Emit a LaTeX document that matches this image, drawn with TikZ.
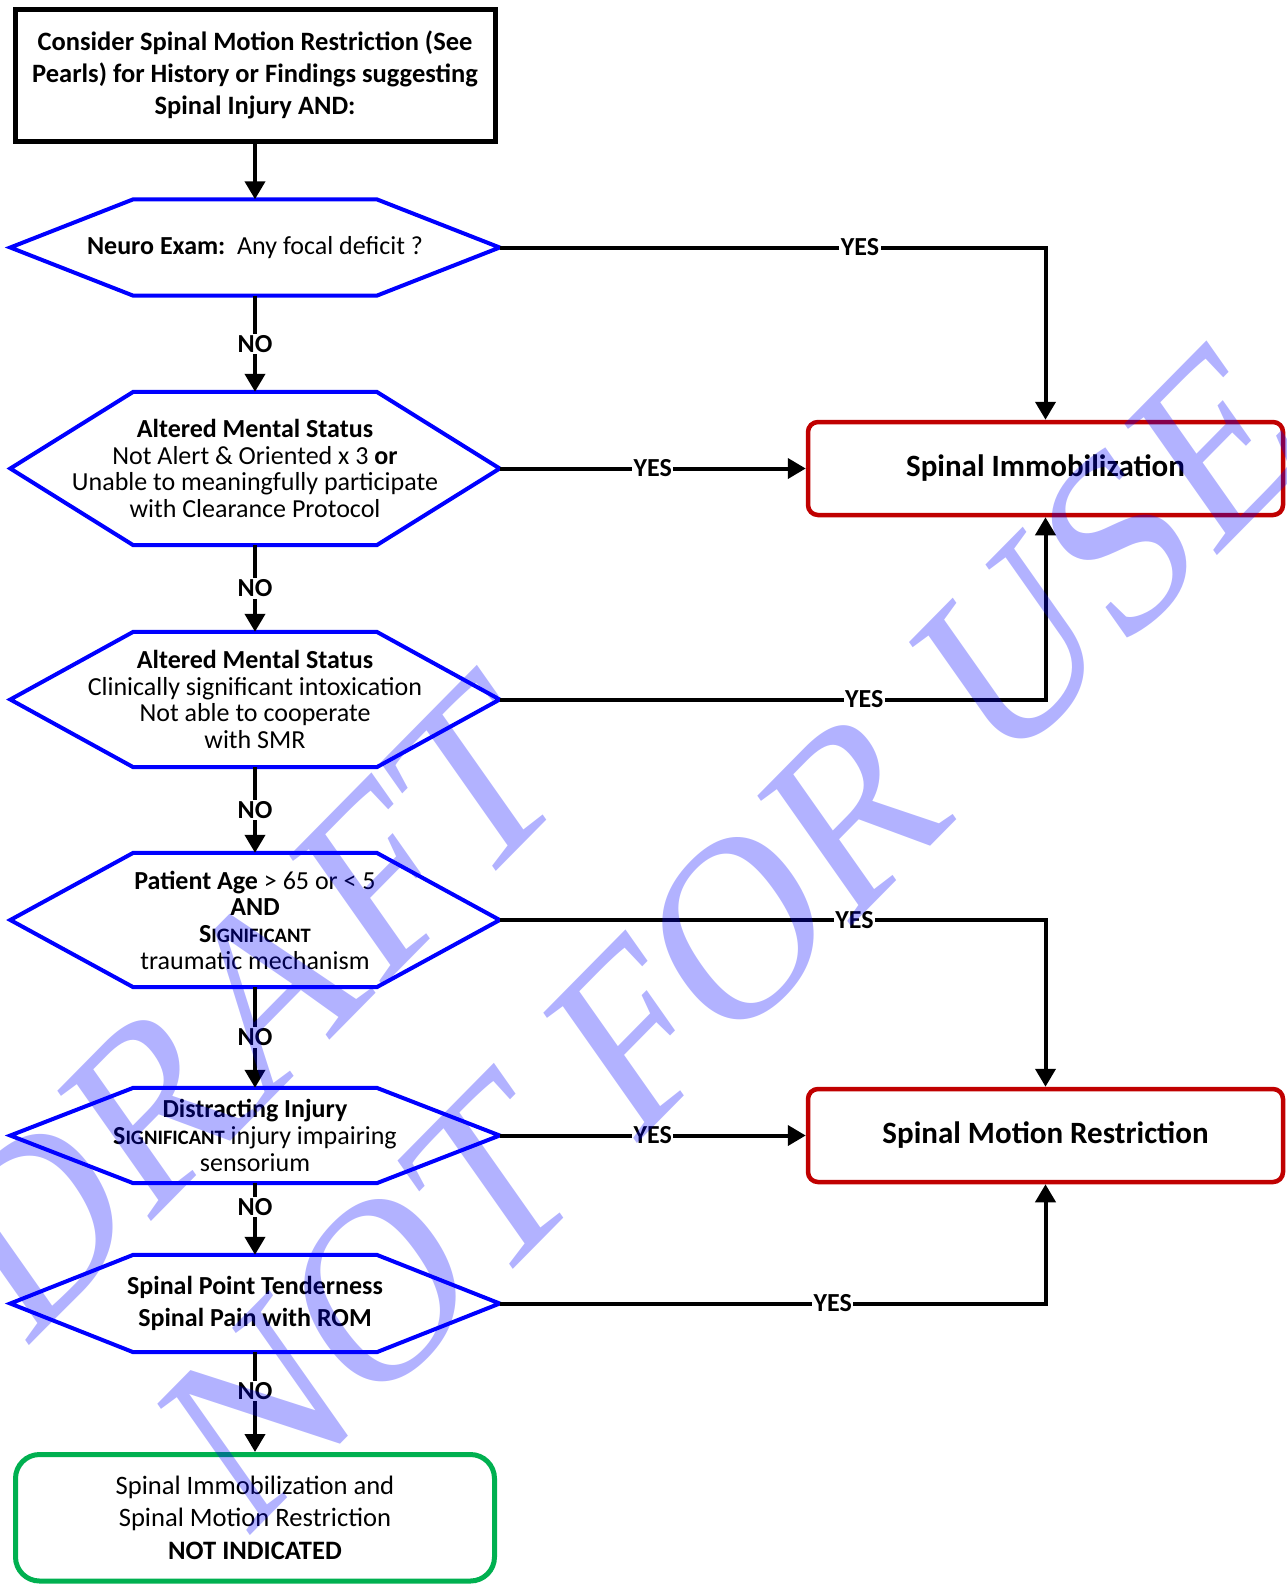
\documentclass[tikz,border=0pt]{standalone}
\usepackage{fontspec}
\setmainfont{Carlito}
\newfontfamily\wmfont{Liberation Serif}
\usetikzlibrary{arrows.meta}

\definecolor{hexblue}{RGB}{0,0,255}
\definecolor{boxred}{RGB}{192,0,0}
\definecolor{boxgreen}{RGB}{0,176,80}

\newcommand{\sig}{S{\fontsize{20.5}{20}\selectfont IGNIFICANT}}

\tikzset{
    hexline/.style={draw=hexblue, line width=4pt},
    lbl/.style={fill=white, inner sep=1.5pt, font=\bfseries\fontsize{26}{26}\selectfont},
    outcome/.style={draw=boxred, line width=4.5pt, rounded corners=10pt, minimum width=475pt, minimum height=93pt, font=\bfseries\fontsize{31}{38}\selectfont},
    wmark/.style={text=blue, text opacity=0.3, inner sep=0pt, font=\wmfont\fontsize{219}{219}\selectfont}
}

\begin{document}
\begin{tikzpicture}[x=1pt,y=-1pt]
            \useasboundingbox (0,0) rectangle (1286,1585);

            \node[draw, line width=5pt, minimum width=480pt, minimum height=132pt, align=center, font=\bfseries\fontsize{26.5}{32}\selectfont] (start) at (255,75) {Consider Spinal Motion Restriction (See\\Pearls) for History or Findings suggesting\\Spinal Injury AND:};

            \begin{scope}[every node/.style={minimum width=489pt, align=center, inner sep=2pt, font=\fontsize{26}{26.7}\selectfont}]
                \node[minimum height=96pt] (neuro) at (255,247.5) {\textbf{Neuro Exam:}\ \ Any focal deficit ?};
                \node[minimum height=153pt] (ams1) at (255,468.5) {\textbf{Altered Mental Status}\\Not Alert \& Oriented x 3 \textbf{or}\\Unable to meaningfully participate\\with Clearance Protocol};
                \node[minimum height=135pt] (ams2) at (255,699.5) {\textbf{Altered Mental Status}\\Clinically significant intoxication\\Not able to cooperate\\with SMR};
                \node[minimum height=134pt] (age) at (255,920) {\textbf{Patient Age} > 65 or < 5\\\textbf{AND}\\\textbf{\sig}\\traumatic mechanism};
                \node[minimum height=95pt] (distract) at (255,1135.5) {\textbf{Distracting Injury}\\\textbf{\sig} injury impairing\\sensorium};
                \node[minimum height=97pt, font=\bfseries\fontsize{26}{32}\selectfont] (tender) at (255,1303.5) {Spinal Point Tenderness\\Spinal Pain with ROM};
            \end{scope}

            \foreach \h in {neuro,ams1,ams2,age,distract,tender}
                \draw[hexline] (\h.west) -- ([xshift=123pt]\h.north west) -- ([xshift=-123pt]\h.north east) -- (\h.east) -- ([xshift=-123pt]\h.south east) -- ([xshift=123pt]\h.south west) -- cycle;

            \node[outcome] (immob) at (1045.5,468.5) {Spinal Immobilization};
            \node[outcome] (smr) at (1045.5,1135.5) {Spinal Motion Restriction};

            \node[draw=boxgreen, line width=5pt, rounded corners=24pt, minimum width=479pt, minimum height=126.5pt, align=center, font=\fontsize{26.6}{32.5}\selectfont] (cleared) at (255,1517.75) {Spinal Immobilization and\\Spinal Motion Restriction\\\textbf{NOT INDICATED}};

            \begin{scope}[every edge/.style={draw, line width=4pt, -{Triangle[length=18pt,width=20pt]}}, elbow/.style={to path={-| (\tikztotarget) \tikztonodes}}]
                \path (start) edge (neuro);
                \path (neuro) edge node[lbl] {NO} (ams1);
                \path (ams1) edge node[lbl] {NO} (ams2);
                \path (ams2) edge node[lbl] {NO} (age);
                \path (age) edge node[lbl] {NO} (distract);
                \path (distract) edge node[lbl, pos=0.33] {NO} (tender);
                \path (tender) edge node[lbl, pos=0.39] {NO} (cleared);

                \path (neuro) edge[elbow] node[lbl, pos=0.33] {YES} (immob);
                \path (ams1) edge node[lbl] {YES} (immob);
                \path (ams2) edge[elbow] node[lbl, pos=0.334] {YES} (immob);
                \path (age) edge[elbow] node[lbl, pos=0.325] {YES} (smr);
                \path (distract) edge node[lbl] {YES} (smr);
                \path (tender) edge[elbow] node[lbl, pos=0.305] {YES} (smr);
            \end{scope}

            \begin{scope}[yscale=1.2]
                \node[wmark, rotate=40.2, transform shape] (draft) at (252,838.3) {DRAFT};
                \node[wmark, rotate=40.2, transform shape] (notuse) at (734,777.5) {NOT FOR USE};
            \end{scope}
\end{tikzpicture}
\end{document}
